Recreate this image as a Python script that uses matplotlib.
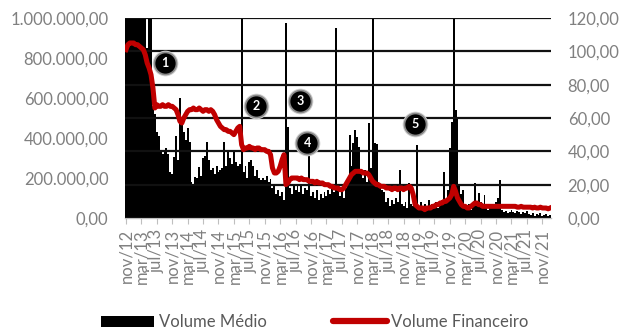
import matplotlib
matplotlib.use("Agg")
import matplotlib.pyplot as plt
import numpy as np
from matplotlib.ticker import FuncFormatter
from matplotlib.patches import Patch
from matplotlib.lines import Line2D

plt.rcParams['font.family'] = ['Lato', 'DejaVu Sans']

# Volume médio (thousands of shares), one value per half month, nov/12 - jan/22
volume_medio_mil = [
    1300, 1250, 1400, 1200, 1350, 1300, 1150, 1250, 1300, 1200,
    1200, 850, 1150, 1050, 560, 520, 430, 410, 330, 320,
    340, 350, 320, 230, 220, 305, 410, 290, 600, 465,
    430, 390, 450, 380, 180, 170, 205, 200, 255, 210,
    300, 310, 380, 290, 240, 250, 220, 260, 230, 240,
    250, 380, 260, 340, 300, 270, 340, 280, 260, 270,
    1200, 230, 260, 200, 280, 290, 260, 210, 240, 200,
    190, 200, 190, 210, 180, 195, 150, 170, 120, 140,
    110, 130, 90, 975, 455, 150, 120, 160, 140, 160,
    130, 170, 120, 150, 140, 325, 110, 130, 100, 140,
    90, 120, 100, 130, 110, 140, 120, 150, 130, 950,
    160, 110, 130, 100, 150, 200, 415, 260, 375, 440,
    405, 355, 230, 200, 240, 180, 475, 250, 1200, 375,
    370, 180, 160, 140, 130, 80, 100, 60, 90, 70,
    100, 80, 240, 70, 60, 80, 50, 175, 70, 60,
    80, 365, 60, 80, 50, 70, 60, 90, 50, 70,
    60, 80, 50, 70, 70, 230, 90, 140, 350, 480,
    1200, 540, 505, 170, 120, 140, 60, 50, 70, 40,
    60, 175, 60, 125, 80, 60, 115, 50, 40, 60,
    50, 70, 80, 100, 190, 40, 30, 35, 25, 30,
    40, 30, 25, 35, 30, 20, 30, 25, 35, 20,
    15, 25, 10, 20, 15, 25, 10, 15, 20, 10, 15,
]

# Volume financeiro (right axis), same half-month steps
volume_financeiro = [
    101, 104, 105, 105, 105, 104, 104, 103, 102, 101,
    98, 93, 90, 86, 78, 66, 68, 67, 67, 68,
    67, 67, 68, 67, 67, 66, 65, 62, 58, 57,
    60, 62, 64, 65, 65, 66, 65, 65, 66, 65,
    64, 65, 65, 64, 65, 64, 62, 59, 57, 55,
    54, 53, 53, 52, 52, 51, 50, 52, 54, 55,
    44, 41, 42, 42, 43, 42, 42, 41, 42, 42,
    41, 41, 41, 40, 40, 38, 30, 27, 27, 28,
    31, 35, 38, 20, 21, 23, 24, 24, 24, 24,
    23, 24, 23, 23, 23, 22, 22, 22, 21, 22,
    21, 21, 21, 20, 20, 20, 19, 19, 18, 18,
    18, 17, 17, 18, 20, 22, 24, 26, 27, 28,
    28, 28, 28, 27, 27, 27, 26, 24, 22, 21,
    20, 20, 19, 19, 19, 18, 18, 18, 17, 18,
    18, 17, 18, 18, 17, 18, 18, 19, 18, 14,
    8, 7, 6, 6, 6, 5, 6, 6, 6, 7,
    7, 8, 8, 9, 9, 10, 10, 11, 12, 14,
    19, 16, 12, 10, 8, 7, 7, 6, 6, 7,
    8, 9, 9, 8, 8, 7, 7, 7, 7, 7,
    7, 7, 7, 7, 7, 7, 7, 7, 7, 7,
    7, 7, 7, 6.5, 6.5, 7, 6.5, 6.5, 6.5, 6.5,
    6.5, 6, 6.5, 6, 6, 6.5, 6, 6, 6, 5.5, 6,
]

tick_labels = [
    'nov/12', 'mar/13', 'jul/13', 'nov/13', 'mar/14', 'jul/14', 'nov/14',
    'mar/15', 'jul/15', 'nov/15', 'mar/16', 'jul/16', 'nov/16', 'mar/17',
    'jul/17', 'nov/17', 'mar/18', 'jul/18', 'nov/18', 'mar/19', 'jul/19',
    'nov/19', 'mar/20', 'jul/20', 'nov/20', 'mar/21', 'jul/21', 'nov/21',
]

# numbered event markers: label, half-month position, left-axis height
event_labels = ['1', '2', '3', '4', '5']
event_pos = [20.3, 67.5, 90.4, 94.0, 150.2]
event_height = [775000, 560000, 585000, 375000, 470000]

volume = np.array(volume_medio_mil) * 1000
idx = np.arange(len(volume))

GRAY = '#808080'

fig = plt.figure(figsize=(6.23, 3.29), dpi=100)
ax = fig.add_axes([125 / 623, 1 - 218 / 329, 426 / 623, 200 / 329])

ax.bar(idx, volume, width=1.0, color='black', linewidth=0)
ax.set_xlim(-0.5, len(volume) - 0.5)
ax.set_ylim(0, 1_000_000)
ax.set_yticks(np.arange(0, 1_000_001, 200_000))


def br_fmt(v, _pos=None):
    s = f"{v:,.2f}"
    return s.replace(',', 'X').replace('.', ',').replace('X', '.')


ax.yaxis.set_major_formatter(FuncFormatter(br_fmt))
ax.tick_params(axis='y', length=0, pad=12, labelsize=12, labelcolor=GRAY)
ax.set_xticks(np.arange(0, len(tick_labels) * 8, 8))
ax.set_xticklabels(tick_labels, rotation=90)
ax.tick_params(axis='x', length=4, width=0.8, color='#bfbfbf', pad=4,
               labelsize=12, labelcolor=GRAY)
for side in ['top', 'right', 'left']:
    ax.spines[side].set_visible(False)
ax.spines['bottom'].set_color('#bfbfbf')
ax.spines['bottom'].set_linewidth(1.0)

ax2 = ax.twinx()
ax2.plot(idx, volume_financeiro, color='#C00000', lw=3.6,
         solid_joinstyle='round', zorder=3)
ax2.set_ylim(0, 120)
ax2.set_yticks(np.arange(0, 121, 20))
ax2.yaxis.set_major_formatter(FuncFormatter(br_fmt))
ax2.tick_params(axis='y', length=0, pad=12, labelsize=12, labelcolor=GRAY)
ax2.grid(axis='y', color='#111111', lw=1.6)
ax2.set_axisbelow(True)
for side in ['top', 'right', 'left', 'bottom']:
    ax2.spines[side].set_visible(False)

# numbered markers with a soft grey halo
ex = ax.transData
for lab, px, py in zip(event_labels, event_pos, event_height):
    ax2.scatter([px], [py], s=340, color='#cfcfcf', linewidths=0,
                transform=ex, zorder=5)
    ax2.scatter([px], [py], s=250, color='black', edgecolors='#8a8a8a',
                linewidths=1.2, transform=ex, zorder=6)
    ax2.text(px, py, lab, transform=ex, color='white', fontsize=9,
             fontweight='bold', ha='center', va='center', zorder=7)

handles = [Patch(facecolor='black', edgecolor='none'),
           Line2D([], [], color='#C00000', lw=4.5, solid_capstyle='round')]
fig.legend(handles, ['Volume Médio', 'Volume Financeiro'], loc='center',
           bbox_to_anchor=(0.505, 1 - 322 / 329), ncol=2, frameon=False,
           fontsize=12, handlelength=3.2, handleheight=0.65,
           columnspacing=4.0, handletextpad=0.25, labelcolor='#595959')

fig.savefig('out.png', dpi=100)
